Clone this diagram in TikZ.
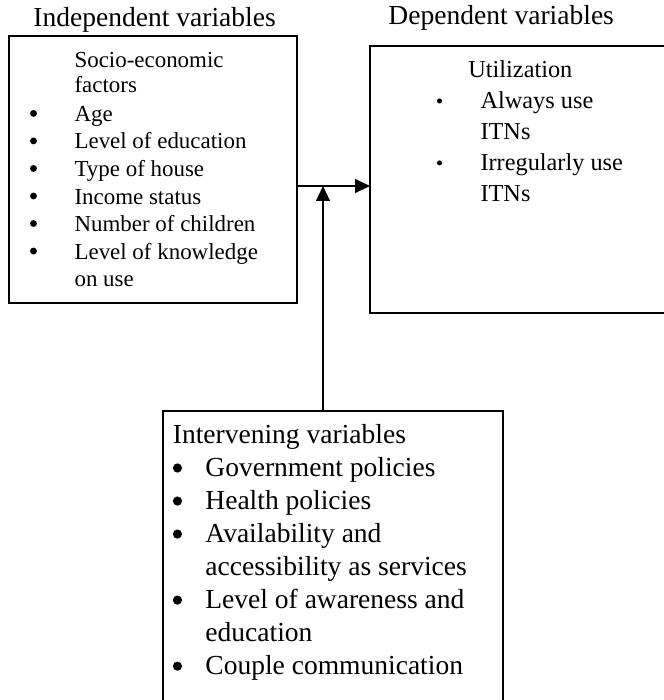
\documentclass[tikz,border=0pt]{standalone}
\usepackage{fontspec}
\setmainfont{Liberation Serif}
\usetikzlibrary{arrows.meta}
\def\px{0.436pt}
\newcommand\dotbul[1]{\tikz[baseline=-3.5pt]\fill (0,0) circle (#1);}
\tikzset{
  varbox/.style={draw, rectangle, outer sep=0pt, inner sep=0pt},
  vartext/.style={anchor=base west, inner sep=0pt},
  link/.style={line width=0.7pt, -{Triangle[length=6.5pt, width=6pt]}}
}

\begin{document}
\begin{tikzpicture}[x=\px, y=-\px]
		%%%%% START %%%%%
		\useasboundingbox (0,0) rectangle (663,700);
		
		\node[vartext, font=\fontsize{12}{14.4}\selectfont] (indeplabel) at (33,26.5) {Independent variables};
		\node[vartext, font=\fontsize{12}{14.4}\selectfont] (deplabel) at (388,25) {Dependent variables};
		
		\node[varbox, line width=0.5pt, minimum width=288*\px, minimum height=267*\px] (lbox) at (153,169.5) {};
		\node[varbox, line width=0.9pt, minimum width=310*\px, minimum height=267*\px] (rbox) at (525,179.5) {};
		\node[varbox, line width=0.9pt, minimum width=340*\px, minimum height=309*\px] (ibox) at (333,565.5) {};
		
		\node[vartext, font=\fontsize{10}{12}\selectfont] (ltext) at (29.6,68) {%
			\begin{tabular}[t]{@{}c@{\hspace{16.4pt}}l@{}}
				& Socio-economic\\[-1.5pt]
				& factors\\[0.8pt]
				\dotbul{1.5pt} & Age\\
				\dotbul{1.5pt} & Level of education\\
				\dotbul{1.5pt} & Type of house\\
				\dotbul{1.5pt} & Income status\\
				\dotbul{1.5pt} & Number of children\\
				\dotbul{1.5pt} & Level of knowledge\\
				& on use
			\end{tabular}};
		
		\node[vartext, font=\fontsize{10.6}{13.5}\selectfont] (rtext) at (436.5,78) {%
			\begin{tabular}[t]{@{}c@{\hspace{16.8pt}}l@{}}
				\multicolumn{2}{@{\hspace{13.7pt}}l@{}}{Utilization}\\
				\dotbul{1.1pt} & Always use\\
				& ITNs\\
				\dotbul{1.1pt} & Irregularly use\\
				& ITNs
			\end{tabular}};
		
		\node[vartext, font=\fontsize{12}{14.4}\selectfont] (itext) at (172.4,443) {%
			\begin{tabular}[t]{@{}c@{\hspace{10.2pt}}l@{}}
				\multicolumn{2}{@{}l@{}}{Intervening variables}\\
				\dotbul{2pt} & Government policies\\
				\dotbul{2pt} & Health policies\\
				\dotbul{2pt} & Availability and\\
				& accessibility as services\\
				\dotbul{2pt} & Level of awareness and\\
				& education\\
				\dotbul{2pt} & Couple communication
			\end{tabular}};
		
		\coordinate (joint) at (323,186);
		\draw[link] (lbox.east |- joint) -- (rbox.west |- joint);
		\draw[link] (ibox.north -| joint) -- (joint);
		
		%%%%% END %%%%%
	\end{tikzpicture}
\end{document}
